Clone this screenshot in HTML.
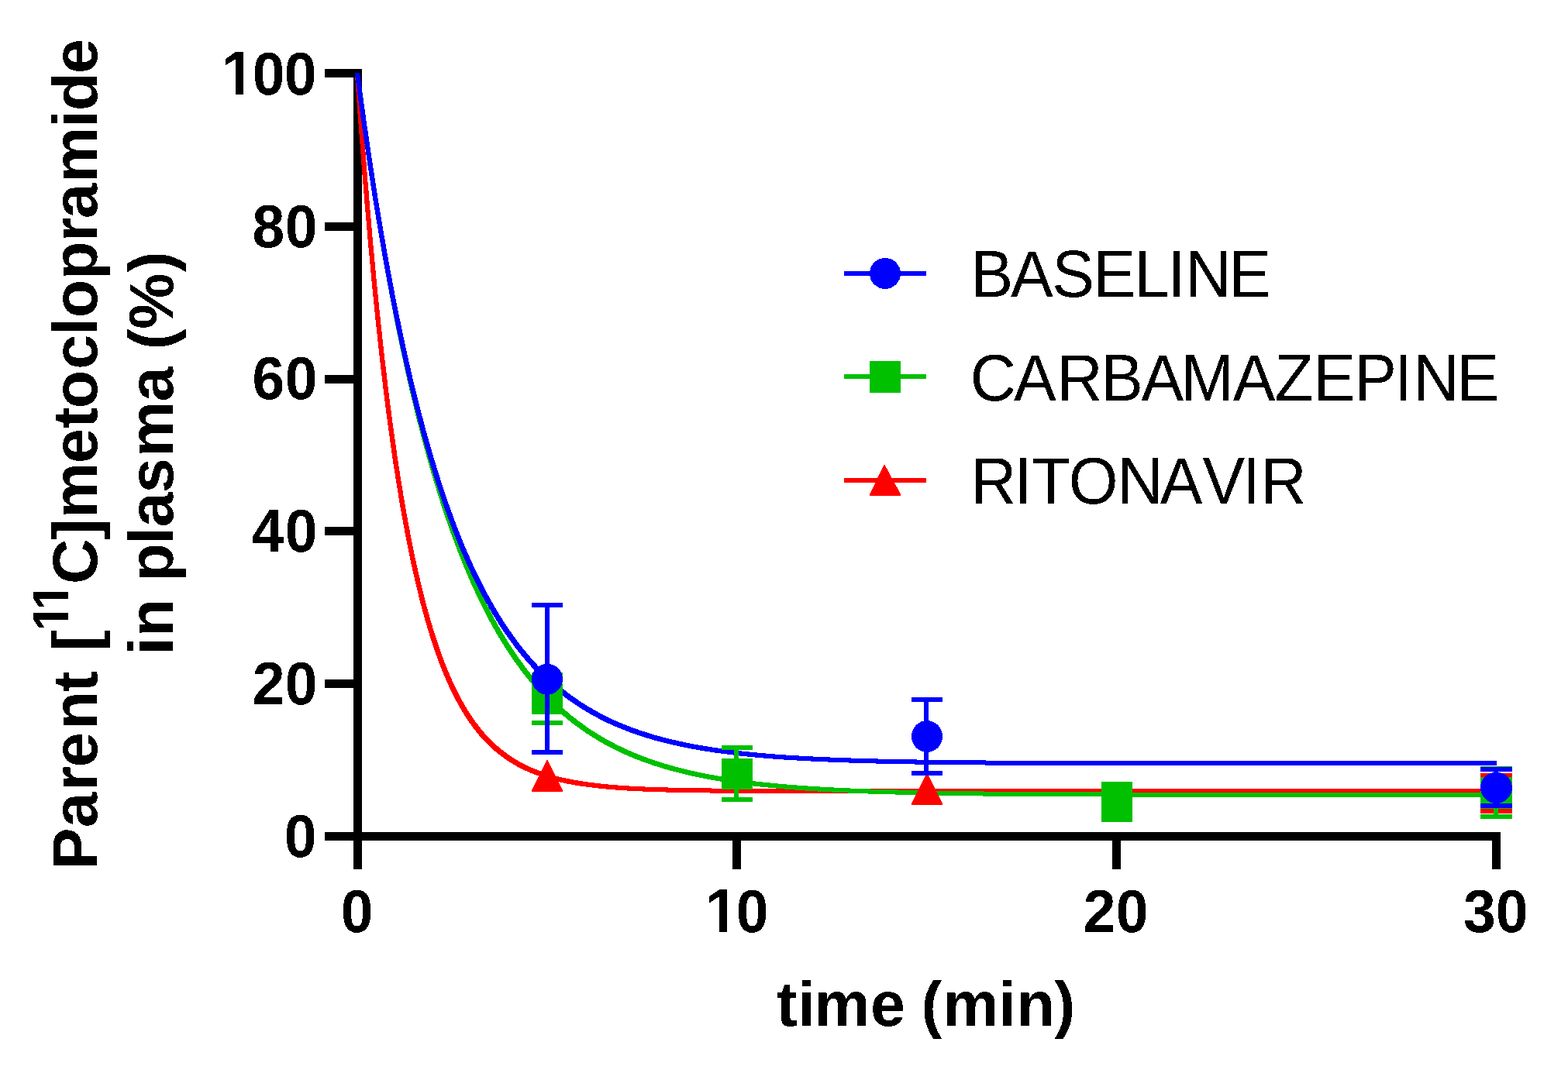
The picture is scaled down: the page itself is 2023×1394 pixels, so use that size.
<!DOCTYPE html>
<html lang="en"><head><meta charset="utf-8">
<title>Parent [11C]metoclopramide in plasma</title>
<style>
html,body{margin:0;padding:0;background:#fff;width:2023px;height:1394px;}
body{overflow:hidden;}
svg{display:block;}
text{font-family:"Liberation Sans",sans-serif;fill:#000;font-kerning:none;}
.b{font-weight:bold;}
.tk{font-weight:bold;font-size:75px;}
.ti{font-weight:bold;font-size:81px;}
.lg{font-size:82px;}
</style></head><body>
<svg width="2023" height="1394" viewBox="0 0 2023 1394" role="img" aria-label="Parent [11C]metoclopramide in plasma (%) versus time (min)">
<defs><filter id="bin" x="-5%" y="-20%" width="110%" height="140%" color-interpolation-filters="sRGB"><feComponentTransfer><feFuncA type="discrete" tableValues="0 1"/></feComponentTransfer></filter></defs>
<rect x="0" y="0" width="2023" height="1394" fill="#fff"/>
<g fill="#000" shape-rendering="crispEdges">
<rect x="456" y="89" width="11" height="1033"/>
<rect x="419" y="1074" width="1517" height="11"/>
<rect x="419" y="89" width="38" height="11"/>
<rect x="419" y="287" width="38" height="11"/>
<rect x="419" y="484" width="38" height="11"/>
<rect x="419" y="680" width="38" height="11"/>
<rect x="419" y="877" width="38" height="11"/>
<rect x="945" y="1074" width="11" height="48"/>
<rect x="1435" y="1074" width="11" height="48"/>
<rect x="1925" y="1074" width="11" height="48"/>
</g>
<defs><clipPath id="plot"><rect x="0" y="94" width="1931" height="1300"/></clipPath></defs>
<g fill="none" stroke-width="3" stroke-linecap="square" stroke-linejoin="round" shape-rendering="crispEdges" clip-path="url(#plot)">
<g stroke="#ff0000">
<polyline transform="translate(-1.5 -1.5)" points="461,94.5 461.8,106.4 462.6,118.3 463.5,130.2 464.3,142.1 465.2,154 466.1,165.8 467,177.7 467.9,189.6 468.8,201.5 469.7,213.4 470.6,225.2 471.6,237.1 472.6,249 473.5,260.9 474.5,272.7 475.6,284.6 476.6,296.4 477.6,308.3 478.7,320.1 479.8,332 480.9,343.8 482,355.7 483.1,367.5 484.3,379.4 485.5,391.2 486.7,403 487.9,414.8 489.2,426.7 490.4,438.5 491.7,450.2 493,461.8 494.3,473.2 495.7,484.6 497,495.8 498.3,506.9 499.7,517.9 501.1,528.8 502.5,539.5 503.9,550.2 505.4,560.7 506.8,571.1 508.3,581.4 509.7,591.5 511.2,601.5 512.8,611.5 514.3,621.3 515.9,630.9 517.4,640.5 519,649.9 520.6,659.3 522.3,668.5 523.9,677.5 525.6,686.5 527.3,695.4 529,704.1 530.8,712.7 532.5,721.2 534.3,729.5 536.1,737.8 538,745.9 539.9,753.9 541.8,761.8 543.7,769.6 545.6,777.2 547.6,784.8 549.7,792.2 551.7,799.5 553.8,806.7 555.9,813.7 558.1,820.7 560.3,827.5 562.5,834.2 564.8,840.8 567.1,847.2 569.4,853.6 571.8,859.8 574.3,865.9 576.8,871.9 579.3,877.8 581.9,883.5 584.6,889.1 587.3,894.6 590,900 592.9,905.3 595.7,910.5 598.7,915.5 601.7,920.4 604.8,925.2 608,929.9 611.2,934.5 614.6,938.9 618,943.2 621.5,947.5 625.1,951.5 628.9,955.5 632.7,959.4 636.6,963.1 640.7,966.7 644.9,970.2 649.3,973.6 653.8,976.9 658.4,980 663.3,983 668.3,986 673.5,988.7 679,991.4 684.7,994 690.6,996.4 696.9,998.7 703.4,1001 710.3,1003 717.6,1005 725.3,1006.9 733.5,1008.6 742.3,1010.2 751.6,1011.8 761.7,1013.1 772.7,1014.4 784.6,1015.6 796.5,1016.6 808.5,1017.4 820.5,1018 832.5,1018.6 844.4,1019 856.4,1019.4 868.4,1019.7 880.4,1020 892.4,1020.2 904.4,1020.4 916.4,1020.5 928.4,1020.7 940.4,1020.8 952.4,1020.8 964.4,1020.9 976.4,1021 988.4,1021 1000.4,1021 1012.4,1021.1 1024.4,1021.1 1036.4,1021.1 1048.4,1021.1 1060.4,1021.2 1072.4,1021.2 1084.4,1021.2 1096.4,1021.2 1108.4,1021.2 1120.4,1021.2 1132.4,1021.2 1144.4,1021.2 1156.4,1021.2 1168.4,1021.2 1180.4,1021.2 1192.4,1021.2 1204.4,1021.2 1216.4,1021.2 1228.4,1021.2 1240.4,1021.2 1252.4,1021.2 1264.4,1021.2 1276.4,1021.2 1288.4,1021.2 1300.4,1021.2 1312.4,1021.2 1324.4,1021.2 1336.4,1021.2 1348.4,1021.2 1360.4,1021.2 1372.4,1021.2 1384.4,1021.2 1396.4,1021.2 1408.4,1021.2 1420.4,1021.2 1432.4,1021.2 1444.4,1021.2 1456.4,1021.2 1468.4,1021.2 1480.4,1021.2 1492.4,1021.2 1504.4,1021.2 1516.4,1021.2 1528.4,1021.2 1540.4,1021.2 1552.4,1021.2 1564.4,1021.2 1576.4,1021.2 1588.4,1021.2 1600.4,1021.2 1612.4,1021.2 1624.4,1021.2 1636.4,1021.2 1648.4,1021.2 1660.4,1021.2 1672.4,1021.2 1684.4,1021.2 1696.4,1021.2 1708.4,1021.2 1720.4,1021.2 1732.4,1021.2 1744.4,1021.2 1756.4,1021.2 1768.4,1021.2 1780.4,1021.2 1792.4,1021.2 1804.4,1021.2 1816.4,1021.2 1828.4,1021.2 1840.4,1021.2 1852.4,1021.2 1864.4,1021.2 1876.4,1021.2 1888.4,1021.2 1900.4,1021.2 1912.4,1021.2 1924.4,1021.2 1930,1021.2"/>
<polyline transform="translate(1.5 -1.5)" points="461,94.5 461.8,106.4 462.6,118.3 463.5,130.2 464.3,142.1 465.2,154 466.1,165.8 467,177.7 467.9,189.6 468.8,201.5 469.7,213.4 470.6,225.2 471.6,237.1 472.6,249 473.5,260.9 474.5,272.7 475.6,284.6 476.6,296.4 477.6,308.3 478.7,320.1 479.8,332 480.9,343.8 482,355.7 483.1,367.5 484.3,379.4 485.5,391.2 486.7,403 487.9,414.8 489.2,426.7 490.4,438.5 491.7,450.2 493,461.8 494.3,473.2 495.7,484.6 497,495.8 498.3,506.9 499.7,517.9 501.1,528.8 502.5,539.5 503.9,550.2 505.4,560.7 506.8,571.1 508.3,581.4 509.7,591.5 511.2,601.5 512.8,611.5 514.3,621.3 515.9,630.9 517.4,640.5 519,649.9 520.6,659.3 522.3,668.5 523.9,677.5 525.6,686.5 527.3,695.4 529,704.1 530.8,712.7 532.5,721.2 534.3,729.5 536.1,737.8 538,745.9 539.9,753.9 541.8,761.8 543.7,769.6 545.6,777.2 547.6,784.8 549.7,792.2 551.7,799.5 553.8,806.7 555.9,813.7 558.1,820.7 560.3,827.5 562.5,834.2 564.8,840.8 567.1,847.2 569.4,853.6 571.8,859.8 574.3,865.9 576.8,871.9 579.3,877.8 581.9,883.5 584.6,889.1 587.3,894.6 590,900 592.9,905.3 595.7,910.5 598.7,915.5 601.7,920.4 604.8,925.2 608,929.9 611.2,934.5 614.6,938.9 618,943.2 621.5,947.5 625.1,951.5 628.9,955.5 632.7,959.4 636.6,963.1 640.7,966.7 644.9,970.2 649.3,973.6 653.8,976.9 658.4,980 663.3,983 668.3,986 673.5,988.7 679,991.4 684.7,994 690.6,996.4 696.9,998.7 703.4,1001 710.3,1003 717.6,1005 725.3,1006.9 733.5,1008.6 742.3,1010.2 751.6,1011.8 761.7,1013.1 772.7,1014.4 784.6,1015.6 796.5,1016.6 808.5,1017.4 820.5,1018 832.5,1018.6 844.4,1019 856.4,1019.4 868.4,1019.7 880.4,1020 892.4,1020.2 904.4,1020.4 916.4,1020.5 928.4,1020.7 940.4,1020.8 952.4,1020.8 964.4,1020.9 976.4,1021 988.4,1021 1000.4,1021 1012.4,1021.1 1024.4,1021.1 1036.4,1021.1 1048.4,1021.1 1060.4,1021.2 1072.4,1021.2 1084.4,1021.2 1096.4,1021.2 1108.4,1021.2 1120.4,1021.2 1132.4,1021.2 1144.4,1021.2 1156.4,1021.2 1168.4,1021.2 1180.4,1021.2 1192.4,1021.2 1204.4,1021.2 1216.4,1021.2 1228.4,1021.2 1240.4,1021.2 1252.4,1021.2 1264.4,1021.2 1276.4,1021.2 1288.4,1021.2 1300.4,1021.2 1312.4,1021.2 1324.4,1021.2 1336.4,1021.2 1348.4,1021.2 1360.4,1021.2 1372.4,1021.2 1384.4,1021.2 1396.4,1021.2 1408.4,1021.2 1420.4,1021.2 1432.4,1021.2 1444.4,1021.2 1456.4,1021.2 1468.4,1021.2 1480.4,1021.2 1492.4,1021.2 1504.4,1021.2 1516.4,1021.2 1528.4,1021.2 1540.4,1021.2 1552.4,1021.2 1564.4,1021.2 1576.4,1021.2 1588.4,1021.2 1600.4,1021.2 1612.4,1021.2 1624.4,1021.2 1636.4,1021.2 1648.4,1021.2 1660.4,1021.2 1672.4,1021.2 1684.4,1021.2 1696.4,1021.2 1708.4,1021.2 1720.4,1021.2 1732.4,1021.2 1744.4,1021.2 1756.4,1021.2 1768.4,1021.2 1780.4,1021.2 1792.4,1021.2 1804.4,1021.2 1816.4,1021.2 1828.4,1021.2 1840.4,1021.2 1852.4,1021.2 1864.4,1021.2 1876.4,1021.2 1888.4,1021.2 1900.4,1021.2 1912.4,1021.2 1924.4,1021.2 1930,1021.2"/>
<polyline transform="translate(-1.5 1.5)" points="461,94.5 461.8,106.4 462.6,118.3 463.5,130.2 464.3,142.1 465.2,154 466.1,165.8 467,177.7 467.9,189.6 468.8,201.5 469.7,213.4 470.6,225.2 471.6,237.1 472.6,249 473.5,260.9 474.5,272.7 475.6,284.6 476.6,296.4 477.6,308.3 478.7,320.1 479.8,332 480.9,343.8 482,355.7 483.1,367.5 484.3,379.4 485.5,391.2 486.7,403 487.9,414.8 489.2,426.7 490.4,438.5 491.7,450.2 493,461.8 494.3,473.2 495.7,484.6 497,495.8 498.3,506.9 499.7,517.9 501.1,528.8 502.5,539.5 503.9,550.2 505.4,560.7 506.8,571.1 508.3,581.4 509.7,591.5 511.2,601.5 512.8,611.5 514.3,621.3 515.9,630.9 517.4,640.5 519,649.9 520.6,659.3 522.3,668.5 523.9,677.5 525.6,686.5 527.3,695.4 529,704.1 530.8,712.7 532.5,721.2 534.3,729.5 536.1,737.8 538,745.9 539.9,753.9 541.8,761.8 543.7,769.6 545.6,777.2 547.6,784.8 549.7,792.2 551.7,799.5 553.8,806.7 555.9,813.7 558.1,820.7 560.3,827.5 562.5,834.2 564.8,840.8 567.1,847.2 569.4,853.6 571.8,859.8 574.3,865.9 576.8,871.9 579.3,877.8 581.9,883.5 584.6,889.1 587.3,894.6 590,900 592.9,905.3 595.7,910.5 598.7,915.5 601.7,920.4 604.8,925.2 608,929.9 611.2,934.5 614.6,938.9 618,943.2 621.5,947.5 625.1,951.5 628.9,955.5 632.7,959.4 636.6,963.1 640.7,966.7 644.9,970.2 649.3,973.6 653.8,976.9 658.4,980 663.3,983 668.3,986 673.5,988.7 679,991.4 684.7,994 690.6,996.4 696.9,998.7 703.4,1001 710.3,1003 717.6,1005 725.3,1006.9 733.5,1008.6 742.3,1010.2 751.6,1011.8 761.7,1013.1 772.7,1014.4 784.6,1015.6 796.5,1016.6 808.5,1017.4 820.5,1018 832.5,1018.6 844.4,1019 856.4,1019.4 868.4,1019.7 880.4,1020 892.4,1020.2 904.4,1020.4 916.4,1020.5 928.4,1020.7 940.4,1020.8 952.4,1020.8 964.4,1020.9 976.4,1021 988.4,1021 1000.4,1021 1012.4,1021.1 1024.4,1021.1 1036.4,1021.1 1048.4,1021.1 1060.4,1021.2 1072.4,1021.2 1084.4,1021.2 1096.4,1021.2 1108.4,1021.2 1120.4,1021.2 1132.4,1021.2 1144.4,1021.2 1156.4,1021.2 1168.4,1021.2 1180.4,1021.2 1192.4,1021.2 1204.4,1021.2 1216.4,1021.2 1228.4,1021.2 1240.4,1021.2 1252.4,1021.2 1264.4,1021.2 1276.4,1021.2 1288.4,1021.2 1300.4,1021.2 1312.4,1021.2 1324.4,1021.2 1336.4,1021.2 1348.4,1021.2 1360.4,1021.2 1372.4,1021.2 1384.4,1021.2 1396.4,1021.2 1408.4,1021.2 1420.4,1021.2 1432.4,1021.2 1444.4,1021.2 1456.4,1021.2 1468.4,1021.2 1480.4,1021.2 1492.4,1021.2 1504.4,1021.2 1516.4,1021.2 1528.4,1021.2 1540.4,1021.2 1552.4,1021.2 1564.4,1021.2 1576.4,1021.2 1588.4,1021.2 1600.4,1021.2 1612.4,1021.2 1624.4,1021.2 1636.4,1021.2 1648.4,1021.2 1660.4,1021.2 1672.4,1021.2 1684.4,1021.2 1696.4,1021.2 1708.4,1021.2 1720.4,1021.2 1732.4,1021.2 1744.4,1021.2 1756.4,1021.2 1768.4,1021.2 1780.4,1021.2 1792.4,1021.2 1804.4,1021.2 1816.4,1021.2 1828.4,1021.2 1840.4,1021.2 1852.4,1021.2 1864.4,1021.2 1876.4,1021.2 1888.4,1021.2 1900.4,1021.2 1912.4,1021.2 1924.4,1021.2 1930,1021.2"/>
<polyline transform="translate(1.5 1.5)" points="461,94.5 461.8,106.4 462.6,118.3 463.5,130.2 464.3,142.1 465.2,154 466.1,165.8 467,177.7 467.9,189.6 468.8,201.5 469.7,213.4 470.6,225.2 471.6,237.1 472.6,249 473.5,260.9 474.5,272.7 475.6,284.6 476.6,296.4 477.6,308.3 478.7,320.1 479.8,332 480.9,343.8 482,355.7 483.1,367.5 484.3,379.4 485.5,391.2 486.7,403 487.9,414.8 489.2,426.7 490.4,438.5 491.7,450.2 493,461.8 494.3,473.2 495.7,484.6 497,495.8 498.3,506.9 499.7,517.9 501.1,528.8 502.5,539.5 503.9,550.2 505.4,560.7 506.8,571.1 508.3,581.4 509.7,591.5 511.2,601.5 512.8,611.5 514.3,621.3 515.9,630.9 517.4,640.5 519,649.9 520.6,659.3 522.3,668.5 523.9,677.5 525.6,686.5 527.3,695.4 529,704.1 530.8,712.7 532.5,721.2 534.3,729.5 536.1,737.8 538,745.9 539.9,753.9 541.8,761.8 543.7,769.6 545.6,777.2 547.6,784.8 549.7,792.2 551.7,799.5 553.8,806.7 555.9,813.7 558.1,820.7 560.3,827.5 562.5,834.2 564.8,840.8 567.1,847.2 569.4,853.6 571.8,859.8 574.3,865.9 576.8,871.9 579.3,877.8 581.9,883.5 584.6,889.1 587.3,894.6 590,900 592.9,905.3 595.7,910.5 598.7,915.5 601.7,920.4 604.8,925.2 608,929.9 611.2,934.5 614.6,938.9 618,943.2 621.5,947.5 625.1,951.5 628.9,955.5 632.7,959.4 636.6,963.1 640.7,966.7 644.9,970.2 649.3,973.6 653.8,976.9 658.4,980 663.3,983 668.3,986 673.5,988.7 679,991.4 684.7,994 690.6,996.4 696.9,998.7 703.4,1001 710.3,1003 717.6,1005 725.3,1006.9 733.5,1008.6 742.3,1010.2 751.6,1011.8 761.7,1013.1 772.7,1014.4 784.6,1015.6 796.5,1016.6 808.5,1017.4 820.5,1018 832.5,1018.6 844.4,1019 856.4,1019.4 868.4,1019.7 880.4,1020 892.4,1020.2 904.4,1020.4 916.4,1020.5 928.4,1020.7 940.4,1020.8 952.4,1020.8 964.4,1020.9 976.4,1021 988.4,1021 1000.4,1021 1012.4,1021.1 1024.4,1021.1 1036.4,1021.1 1048.4,1021.1 1060.4,1021.2 1072.4,1021.2 1084.4,1021.2 1096.4,1021.2 1108.4,1021.2 1120.4,1021.2 1132.4,1021.2 1144.4,1021.2 1156.4,1021.2 1168.4,1021.2 1180.4,1021.2 1192.4,1021.2 1204.4,1021.2 1216.4,1021.2 1228.4,1021.2 1240.4,1021.2 1252.4,1021.2 1264.4,1021.2 1276.4,1021.2 1288.4,1021.2 1300.4,1021.2 1312.4,1021.2 1324.4,1021.2 1336.4,1021.2 1348.4,1021.2 1360.4,1021.2 1372.4,1021.2 1384.4,1021.2 1396.4,1021.2 1408.4,1021.2 1420.4,1021.2 1432.4,1021.2 1444.4,1021.2 1456.4,1021.2 1468.4,1021.2 1480.4,1021.2 1492.4,1021.2 1504.4,1021.2 1516.4,1021.2 1528.4,1021.2 1540.4,1021.2 1552.4,1021.2 1564.4,1021.2 1576.4,1021.2 1588.4,1021.2 1600.4,1021.2 1612.4,1021.2 1624.4,1021.2 1636.4,1021.2 1648.4,1021.2 1660.4,1021.2 1672.4,1021.2 1684.4,1021.2 1696.4,1021.2 1708.4,1021.2 1720.4,1021.2 1732.4,1021.2 1744.4,1021.2 1756.4,1021.2 1768.4,1021.2 1780.4,1021.2 1792.4,1021.2 1804.4,1021.2 1816.4,1021.2 1828.4,1021.2 1840.4,1021.2 1852.4,1021.2 1864.4,1021.2 1876.4,1021.2 1888.4,1021.2 1900.4,1021.2 1912.4,1021.2 1924.4,1021.2 1930,1021.2"/>
</g>
<g stroke="#00c000">
<polyline transform="translate(-1.5 -1.5)" points="461,94.5 462.6,106.3 464.2,118.1 465.8,130 467.4,141.8 469,153.6 470.7,165.4 472.4,177.2 474.1,189 475.8,200.8 477.6,212.5 479.4,224.3 481.2,236.1 483.1,247.9 484.9,259.6 486.8,271.4 488.7,283.1 490.7,294.9 492.7,306.6 494.7,318.4 496.7,330.1 498.8,341.8 500.9,353.5 503.1,365.2 505.3,376.9 507.5,388.6 509.8,400.3 512.1,411.9 514.4,423.6 516.8,435.2 519.3,446.9 521.8,458.5 524.3,470 526.8,481.5 529.4,492.8 532,504 534.6,515 537.3,526 540,536.8 542.7,547.5 545.4,558.1 548.2,568.6 551,579 553.9,589.2 556.7,599.3 559.6,609.3 562.6,619.2 565.6,628.9 568.6,638.6 571.6,648.1 574.7,657.5 577.8,666.8 581,676 584.2,685 587.5,693.9 590.8,702.7 594.1,711.4 597.5,720 600.9,728.4 604.4,736.8 608,745 611.5,753.1 615.2,761 618.9,768.9 622.6,776.6 626.4,784.2 630.3,791.7 634.2,799.1 638.2,806.4 642.2,813.5 646.4,820.5 650.6,827.4 654.8,834.2 659.2,840.9 663.6,847.4 668.1,853.8 672.7,860.1 677.3,866.3 682.1,872.4 686.9,878.3 691.9,884.2 696.9,889.9 702.1,895.5 707.3,900.9 712.7,906.3 718.2,911.5 723.8,916.6 729.6,921.6 735.4,926.5 741.5,931.3 747.7,935.9 754,940.5 760.5,944.9 767.2,949.1 774,953.3 781.1,957.4 788.3,961.3 795.8,965.1 803.5,968.8 811.5,972.4 819.7,975.9 828.2,979.2 837,982.4 846.1,985.5 855.6,988.5 865.5,991.4 875.7,994.1 886.4,996.8 897.5,999.3 909.2,1001.7 921,1003.9 932.8,1005.9 944.6,1007.7 956.5,1009.4 968.4,1010.9 980.3,1012.3 992.3,1013.5 1004.2,1014.7 1016.1,1015.7 1028.1,1016.6 1040.1,1017.5 1052,1018.3 1064,1018.9 1076,1019.6 1088,1020.2 1100,1020.7 1112,1021.2 1124,1021.6 1136,1022 1147.9,1022.3 1159.9,1022.6 1171.9,1022.9 1183.9,1023.2 1195.9,1023.4 1207.9,1023.6 1219.9,1023.8 1231.9,1024 1243.9,1024.2 1255.9,1024.3 1267.9,1024.5 1279.9,1024.6 1291.9,1024.7 1303.9,1024.8 1315.9,1024.9 1327.9,1025 1339.9,1025 1351.9,1025.1 1363.9,1025.2 1375.9,1025.2 1387.9,1025.3 1399.9,1025.3 1411.9,1025.4 1423.9,1025.4 1435.9,1025.4 1447.9,1025.5 1459.9,1025.5 1471.9,1025.5 1483.9,1025.5 1495.9,1025.5 1507.9,1025.6 1519.9,1025.6 1531.9,1025.6 1543.9,1025.6 1555.9,1025.6 1567.9,1025.6 1579.9,1025.6 1591.9,1025.7 1603.9,1025.7 1615.9,1025.7 1627.9,1025.7 1639.9,1025.7 1651.9,1025.7 1663.9,1025.7 1675.9,1025.7 1687.9,1025.7 1699.9,1025.7 1711.9,1025.7 1723.9,1025.7 1735.9,1025.7 1747.9,1025.7 1759.9,1025.7 1771.9,1025.7 1783.9,1025.7 1795.9,1025.7 1807.9,1025.7 1819.9,1025.7 1831.9,1025.7 1843.9,1025.7 1855.9,1025.7 1867.9,1025.7 1879.9,1025.7 1891.9,1025.7 1903.9,1025.7 1915.9,1025.7 1927.9,1025.7 1930,1025.7"/>
<polyline transform="translate(1.5 -1.5)" points="461,94.5 462.6,106.3 464.2,118.1 465.8,130 467.4,141.8 469,153.6 470.7,165.4 472.4,177.2 474.1,189 475.8,200.8 477.6,212.5 479.4,224.3 481.2,236.1 483.1,247.9 484.9,259.6 486.8,271.4 488.7,283.1 490.7,294.9 492.7,306.6 494.7,318.4 496.7,330.1 498.8,341.8 500.9,353.5 503.1,365.2 505.3,376.9 507.5,388.6 509.8,400.3 512.1,411.9 514.4,423.6 516.8,435.2 519.3,446.9 521.8,458.5 524.3,470 526.8,481.5 529.4,492.8 532,504 534.6,515 537.3,526 540,536.8 542.7,547.5 545.4,558.1 548.2,568.6 551,579 553.9,589.2 556.7,599.3 559.6,609.3 562.6,619.2 565.6,628.9 568.6,638.6 571.6,648.1 574.7,657.5 577.8,666.8 581,676 584.2,685 587.5,693.9 590.8,702.7 594.1,711.4 597.5,720 600.9,728.4 604.4,736.8 608,745 611.5,753.1 615.2,761 618.9,768.9 622.6,776.6 626.4,784.2 630.3,791.7 634.2,799.1 638.2,806.4 642.2,813.5 646.4,820.5 650.6,827.4 654.8,834.2 659.2,840.9 663.6,847.4 668.1,853.8 672.7,860.1 677.3,866.3 682.1,872.4 686.9,878.3 691.9,884.2 696.9,889.9 702.1,895.5 707.3,900.9 712.7,906.3 718.2,911.5 723.8,916.6 729.6,921.6 735.4,926.5 741.5,931.3 747.7,935.9 754,940.5 760.5,944.9 767.2,949.1 774,953.3 781.1,957.4 788.3,961.3 795.8,965.1 803.5,968.8 811.5,972.4 819.7,975.9 828.2,979.2 837,982.4 846.1,985.5 855.6,988.5 865.5,991.4 875.7,994.1 886.4,996.8 897.5,999.3 909.2,1001.7 921,1003.9 932.8,1005.9 944.6,1007.7 956.5,1009.4 968.4,1010.9 980.3,1012.3 992.3,1013.5 1004.2,1014.7 1016.1,1015.7 1028.1,1016.6 1040.1,1017.5 1052,1018.3 1064,1018.9 1076,1019.6 1088,1020.2 1100,1020.7 1112,1021.2 1124,1021.6 1136,1022 1147.9,1022.3 1159.9,1022.6 1171.9,1022.9 1183.9,1023.2 1195.9,1023.4 1207.9,1023.6 1219.9,1023.8 1231.9,1024 1243.9,1024.2 1255.9,1024.3 1267.9,1024.5 1279.9,1024.6 1291.9,1024.7 1303.9,1024.8 1315.9,1024.9 1327.9,1025 1339.9,1025 1351.9,1025.1 1363.9,1025.2 1375.9,1025.2 1387.9,1025.3 1399.9,1025.3 1411.9,1025.4 1423.9,1025.4 1435.9,1025.4 1447.9,1025.5 1459.9,1025.5 1471.9,1025.5 1483.9,1025.5 1495.9,1025.5 1507.9,1025.6 1519.9,1025.6 1531.9,1025.6 1543.9,1025.6 1555.9,1025.6 1567.9,1025.6 1579.9,1025.6 1591.9,1025.7 1603.9,1025.7 1615.9,1025.7 1627.9,1025.7 1639.9,1025.7 1651.9,1025.7 1663.9,1025.7 1675.9,1025.7 1687.9,1025.7 1699.9,1025.7 1711.9,1025.7 1723.9,1025.7 1735.9,1025.7 1747.9,1025.7 1759.9,1025.7 1771.9,1025.7 1783.9,1025.7 1795.9,1025.7 1807.9,1025.7 1819.9,1025.7 1831.9,1025.7 1843.9,1025.7 1855.9,1025.7 1867.9,1025.7 1879.9,1025.7 1891.9,1025.7 1903.9,1025.7 1915.9,1025.7 1927.9,1025.7 1930,1025.7"/>
<polyline transform="translate(-1.5 1.5)" points="461,94.5 462.6,106.3 464.2,118.1 465.8,130 467.4,141.8 469,153.6 470.7,165.4 472.4,177.2 474.1,189 475.8,200.8 477.6,212.5 479.4,224.3 481.2,236.1 483.1,247.9 484.9,259.6 486.8,271.4 488.7,283.1 490.7,294.9 492.7,306.6 494.7,318.4 496.7,330.1 498.8,341.8 500.9,353.5 503.1,365.2 505.3,376.9 507.5,388.6 509.8,400.3 512.1,411.9 514.4,423.6 516.8,435.2 519.3,446.9 521.8,458.5 524.3,470 526.8,481.5 529.4,492.8 532,504 534.6,515 537.3,526 540,536.8 542.7,547.5 545.4,558.1 548.2,568.6 551,579 553.9,589.2 556.7,599.3 559.6,609.3 562.6,619.2 565.6,628.9 568.6,638.6 571.6,648.1 574.7,657.5 577.8,666.8 581,676 584.2,685 587.5,693.9 590.8,702.7 594.1,711.4 597.5,720 600.9,728.4 604.4,736.8 608,745 611.5,753.1 615.2,761 618.9,768.9 622.6,776.6 626.4,784.2 630.3,791.7 634.2,799.1 638.2,806.4 642.2,813.5 646.4,820.5 650.6,827.4 654.8,834.2 659.2,840.9 663.6,847.4 668.1,853.8 672.7,860.1 677.3,866.3 682.1,872.4 686.9,878.3 691.9,884.2 696.9,889.9 702.1,895.5 707.3,900.9 712.7,906.3 718.2,911.5 723.8,916.6 729.6,921.6 735.4,926.5 741.5,931.3 747.7,935.9 754,940.5 760.5,944.9 767.2,949.1 774,953.3 781.1,957.4 788.3,961.3 795.8,965.1 803.5,968.8 811.5,972.4 819.7,975.9 828.2,979.2 837,982.4 846.1,985.5 855.6,988.5 865.5,991.4 875.7,994.1 886.4,996.8 897.5,999.3 909.2,1001.7 921,1003.9 932.8,1005.9 944.6,1007.7 956.5,1009.4 968.4,1010.9 980.3,1012.3 992.3,1013.5 1004.2,1014.7 1016.1,1015.7 1028.1,1016.6 1040.1,1017.5 1052,1018.3 1064,1018.9 1076,1019.6 1088,1020.2 1100,1020.7 1112,1021.2 1124,1021.6 1136,1022 1147.9,1022.3 1159.9,1022.6 1171.9,1022.9 1183.9,1023.2 1195.9,1023.4 1207.9,1023.6 1219.9,1023.8 1231.9,1024 1243.9,1024.2 1255.9,1024.3 1267.9,1024.5 1279.9,1024.6 1291.9,1024.7 1303.9,1024.8 1315.9,1024.9 1327.9,1025 1339.9,1025 1351.9,1025.1 1363.9,1025.2 1375.9,1025.2 1387.9,1025.3 1399.9,1025.3 1411.9,1025.4 1423.9,1025.4 1435.9,1025.4 1447.9,1025.5 1459.9,1025.5 1471.9,1025.5 1483.9,1025.5 1495.9,1025.5 1507.9,1025.6 1519.9,1025.6 1531.9,1025.6 1543.9,1025.6 1555.9,1025.6 1567.9,1025.6 1579.9,1025.6 1591.9,1025.7 1603.9,1025.7 1615.9,1025.7 1627.9,1025.7 1639.9,1025.7 1651.9,1025.7 1663.9,1025.7 1675.9,1025.7 1687.9,1025.7 1699.9,1025.7 1711.9,1025.7 1723.9,1025.7 1735.9,1025.7 1747.9,1025.7 1759.9,1025.7 1771.9,1025.7 1783.9,1025.7 1795.9,1025.7 1807.9,1025.7 1819.9,1025.7 1831.9,1025.7 1843.9,1025.7 1855.9,1025.7 1867.9,1025.7 1879.9,1025.7 1891.9,1025.7 1903.9,1025.7 1915.9,1025.7 1927.9,1025.7 1930,1025.7"/>
<polyline transform="translate(1.5 1.5)" points="461,94.5 462.6,106.3 464.2,118.1 465.8,130 467.4,141.8 469,153.6 470.7,165.4 472.4,177.2 474.1,189 475.8,200.8 477.6,212.5 479.4,224.3 481.2,236.1 483.1,247.9 484.9,259.6 486.8,271.4 488.7,283.1 490.7,294.9 492.7,306.6 494.7,318.4 496.7,330.1 498.8,341.8 500.9,353.5 503.1,365.2 505.3,376.9 507.5,388.6 509.8,400.3 512.1,411.9 514.4,423.6 516.8,435.2 519.3,446.9 521.8,458.5 524.3,470 526.8,481.5 529.4,492.8 532,504 534.6,515 537.3,526 540,536.8 542.7,547.5 545.4,558.1 548.2,568.6 551,579 553.9,589.2 556.7,599.3 559.6,609.3 562.6,619.2 565.6,628.9 568.6,638.6 571.6,648.1 574.7,657.5 577.8,666.8 581,676 584.2,685 587.5,693.9 590.8,702.7 594.1,711.4 597.5,720 600.9,728.4 604.4,736.8 608,745 611.5,753.1 615.2,761 618.9,768.9 622.6,776.6 626.4,784.2 630.3,791.7 634.2,799.1 638.2,806.4 642.2,813.5 646.4,820.5 650.6,827.4 654.8,834.2 659.2,840.9 663.6,847.4 668.1,853.8 672.7,860.1 677.3,866.3 682.1,872.4 686.9,878.3 691.9,884.2 696.9,889.9 702.1,895.5 707.3,900.9 712.7,906.3 718.2,911.5 723.8,916.6 729.6,921.6 735.4,926.5 741.5,931.3 747.7,935.9 754,940.5 760.5,944.9 767.2,949.1 774,953.3 781.1,957.4 788.3,961.3 795.8,965.1 803.5,968.8 811.5,972.4 819.7,975.9 828.2,979.2 837,982.4 846.1,985.5 855.6,988.5 865.5,991.4 875.7,994.1 886.4,996.8 897.5,999.3 909.2,1001.7 921,1003.9 932.8,1005.9 944.6,1007.7 956.5,1009.4 968.4,1010.9 980.3,1012.3 992.3,1013.5 1004.2,1014.7 1016.1,1015.7 1028.1,1016.6 1040.1,1017.5 1052,1018.3 1064,1018.9 1076,1019.6 1088,1020.2 1100,1020.7 1112,1021.2 1124,1021.6 1136,1022 1147.9,1022.3 1159.9,1022.6 1171.9,1022.9 1183.9,1023.2 1195.9,1023.4 1207.9,1023.6 1219.9,1023.8 1231.9,1024 1243.9,1024.2 1255.9,1024.3 1267.9,1024.5 1279.9,1024.6 1291.9,1024.7 1303.9,1024.8 1315.9,1024.9 1327.9,1025 1339.9,1025 1351.9,1025.1 1363.9,1025.2 1375.9,1025.2 1387.9,1025.3 1399.9,1025.3 1411.9,1025.4 1423.9,1025.4 1435.9,1025.4 1447.9,1025.5 1459.9,1025.5 1471.9,1025.5 1483.9,1025.5 1495.9,1025.5 1507.9,1025.6 1519.9,1025.6 1531.9,1025.6 1543.9,1025.6 1555.9,1025.6 1567.9,1025.6 1579.9,1025.6 1591.9,1025.7 1603.9,1025.7 1615.9,1025.7 1627.9,1025.7 1639.9,1025.7 1651.9,1025.7 1663.9,1025.7 1675.9,1025.7 1687.9,1025.7 1699.9,1025.7 1711.9,1025.7 1723.9,1025.7 1735.9,1025.7 1747.9,1025.7 1759.9,1025.7 1771.9,1025.7 1783.9,1025.7 1795.9,1025.7 1807.9,1025.7 1819.9,1025.7 1831.9,1025.7 1843.9,1025.7 1855.9,1025.7 1867.9,1025.7 1879.9,1025.7 1891.9,1025.7 1903.9,1025.7 1915.9,1025.7 1927.9,1025.7 1930,1025.7"/>
</g>
<g stroke="#0000ff">
<polyline transform="translate(-1.5 -1.5)" points="461,94.5 462.6,106.3 464.1,118.1 465.7,129.9 467.4,141.8 469,153.6 470.7,165.4 472.4,177.2 474.1,188.9 475.8,200.7 477.6,212.5 479.4,224.3 481.2,236.1 483,247.8 484.9,259.6 486.8,271.3 488.8,283.1 490.7,294.8 492.7,306.5 494.8,318.3 496.8,330 498.9,341.7 501.1,353.4 503.3,365.1 505.5,376.8 507.7,388.4 510,400.1 512.4,411.7 514.8,423.4 517.2,434.9 519.6,446.2 522.1,457.5 524.6,468.6 527.1,479.6 529.6,490.5 532.2,501.3 534.8,512 537.4,522.5 540.1,532.9 542.8,543.2 545.5,553.4 548.2,563.5 551,573.4 553.9,583.2 556.7,592.9 559.6,602.5 562.5,612 565.5,621.3 568.5,630.6 571.5,639.7 574.6,648.7 577.7,657.5 580.9,666.3 584.1,674.9 587.3,683.4 590.6,691.8 593.9,700.1 597.3,708.3 600.8,716.3 604.2,724.2 607.8,732 611.4,739.7 615,747.3 618.7,754.7 622.5,762 626.3,769.2 630.2,776.3 634.2,783.3 638.2,790.1 642.3,796.8 646.4,803.4 650.7,809.9 655,816.3 659.4,822.6 663.9,828.7 668.4,834.7 673.1,840.6 677.9,846.4 682.7,852 687.7,857.6 692.7,863 697.9,868.3 703.2,873.5 708.6,878.5 714.1,883.5 719.8,888.3 725.6,893 731.5,897.6 737.6,902.1 743.9,906.4 750.3,910.7 757,914.8 763.8,918.8 770.8,922.7 778,926.4 785.4,930.1 793.1,933.6 801.1,937 809.3,940.3 817.8,943.5 826.7,946.5 835.8,949.4 845.4,952.3 855.3,955 865.7,957.5 876.5,960 887.9,962.4 899.7,964.6 911.5,966.6 923.3,968.4 935.2,970 947.1,971.5 959,972.9 971,974.1 982.9,975.2 994.9,976.2 1006.8,977.1 1018.8,977.9 1030.8,978.6 1042.7,979.3 1054.7,979.8 1066.7,980.4 1078.7,980.9 1090.7,981.3 1102.7,981.7 1114.7,982.1 1126.7,982.4 1138.7,982.7 1150.7,982.9 1162.7,983.2 1174.7,983.4 1186.7,983.6 1198.7,983.7 1210.7,983.9 1222.7,984 1234.7,984.2 1246.7,984.3 1258.7,984.4 1270.7,984.5 1282.7,984.6 1294.7,984.6 1306.7,984.7 1318.7,984.8 1330.7,984.8 1342.7,984.9 1354.7,984.9 1366.7,985 1378.7,985 1390.7,985 1402.7,985.1 1414.7,985.1 1426.7,985.1 1438.7,985.1 1450.7,985.2 1462.7,985.2 1474.7,985.2 1486.7,985.2 1498.7,985.2 1510.7,985.2 1522.7,985.3 1534.7,985.3 1546.7,985.3 1558.7,985.3 1570.7,985.3 1582.7,985.3 1594.7,985.3 1606.7,985.3 1618.7,985.3 1630.7,985.3 1642.7,985.3 1654.7,985.3 1666.7,985.3 1678.7,985.3 1690.7,985.3 1702.7,985.3 1714.7,985.3 1726.7,985.3 1738.7,985.3 1750.7,985.3 1762.7,985.3 1774.7,985.3 1786.7,985.3 1798.7,985.3 1810.7,985.3 1822.7,985.3 1834.7,985.3 1846.7,985.3 1858.7,985.3 1870.7,985.3 1882.7,985.3 1894.7,985.3 1906.7,985.3 1918.7,985.4 1930,985.4"/>
<polyline transform="translate(1.5 -1.5)" points="461,94.5 462.6,106.3 464.1,118.1 465.7,129.9 467.4,141.8 469,153.6 470.7,165.4 472.4,177.2 474.1,188.9 475.8,200.7 477.6,212.5 479.4,224.3 481.2,236.1 483,247.8 484.9,259.6 486.8,271.3 488.8,283.1 490.7,294.8 492.7,306.5 494.8,318.3 496.8,330 498.9,341.7 501.1,353.4 503.3,365.1 505.5,376.8 507.7,388.4 510,400.1 512.4,411.7 514.8,423.4 517.2,434.9 519.6,446.2 522.1,457.5 524.6,468.6 527.1,479.6 529.6,490.5 532.2,501.3 534.8,512 537.4,522.5 540.1,532.9 542.8,543.2 545.5,553.4 548.2,563.5 551,573.4 553.9,583.2 556.7,592.9 559.6,602.5 562.5,612 565.5,621.3 568.5,630.6 571.5,639.7 574.6,648.7 577.7,657.5 580.9,666.3 584.1,674.9 587.3,683.4 590.6,691.8 593.9,700.1 597.3,708.3 600.8,716.3 604.2,724.2 607.8,732 611.4,739.7 615,747.3 618.7,754.7 622.5,762 626.3,769.2 630.2,776.3 634.2,783.3 638.2,790.1 642.3,796.8 646.4,803.4 650.7,809.9 655,816.3 659.4,822.6 663.9,828.7 668.4,834.7 673.1,840.6 677.9,846.4 682.7,852 687.7,857.6 692.7,863 697.9,868.3 703.2,873.5 708.6,878.5 714.1,883.5 719.8,888.3 725.6,893 731.5,897.6 737.6,902.1 743.9,906.4 750.3,910.7 757,914.8 763.8,918.8 770.8,922.7 778,926.4 785.4,930.1 793.1,933.6 801.1,937 809.3,940.3 817.8,943.5 826.7,946.5 835.8,949.4 845.4,952.3 855.3,955 865.7,957.5 876.5,960 887.9,962.4 899.7,964.6 911.5,966.6 923.3,968.4 935.2,970 947.1,971.5 959,972.9 971,974.1 982.9,975.2 994.9,976.2 1006.8,977.1 1018.8,977.9 1030.8,978.6 1042.7,979.3 1054.7,979.8 1066.7,980.4 1078.7,980.9 1090.7,981.3 1102.7,981.7 1114.7,982.1 1126.7,982.4 1138.7,982.7 1150.7,982.9 1162.7,983.2 1174.7,983.4 1186.7,983.6 1198.7,983.7 1210.7,983.9 1222.7,984 1234.7,984.2 1246.7,984.3 1258.7,984.4 1270.7,984.5 1282.7,984.6 1294.7,984.6 1306.7,984.7 1318.7,984.8 1330.7,984.8 1342.7,984.9 1354.7,984.9 1366.7,985 1378.7,985 1390.7,985 1402.7,985.1 1414.7,985.1 1426.7,985.1 1438.7,985.1 1450.7,985.2 1462.7,985.2 1474.7,985.2 1486.7,985.2 1498.7,985.2 1510.7,985.2 1522.7,985.3 1534.7,985.3 1546.7,985.3 1558.7,985.3 1570.7,985.3 1582.7,985.3 1594.7,985.3 1606.7,985.3 1618.7,985.3 1630.7,985.3 1642.7,985.3 1654.7,985.3 1666.7,985.3 1678.7,985.3 1690.7,985.3 1702.7,985.3 1714.7,985.3 1726.7,985.3 1738.7,985.3 1750.7,985.3 1762.7,985.3 1774.7,985.3 1786.7,985.3 1798.7,985.3 1810.7,985.3 1822.7,985.3 1834.7,985.3 1846.7,985.3 1858.7,985.3 1870.7,985.3 1882.7,985.3 1894.7,985.3 1906.7,985.3 1918.7,985.4 1930,985.4"/>
<polyline transform="translate(-1.5 1.5)" points="461,94.5 462.6,106.3 464.1,118.1 465.7,129.9 467.4,141.8 469,153.6 470.7,165.4 472.4,177.2 474.1,188.9 475.8,200.7 477.6,212.5 479.4,224.3 481.2,236.1 483,247.8 484.9,259.6 486.8,271.3 488.8,283.1 490.7,294.8 492.7,306.5 494.8,318.3 496.8,330 498.9,341.7 501.1,353.4 503.3,365.1 505.5,376.8 507.7,388.4 510,400.1 512.4,411.7 514.8,423.4 517.2,434.9 519.6,446.2 522.1,457.5 524.6,468.6 527.1,479.6 529.6,490.5 532.2,501.3 534.8,512 537.4,522.5 540.1,532.9 542.8,543.2 545.5,553.4 548.2,563.5 551,573.4 553.9,583.2 556.7,592.9 559.6,602.5 562.5,612 565.5,621.3 568.5,630.6 571.5,639.7 574.6,648.7 577.7,657.5 580.9,666.3 584.1,674.9 587.3,683.4 590.6,691.8 593.9,700.1 597.3,708.3 600.8,716.3 604.2,724.2 607.8,732 611.4,739.7 615,747.3 618.7,754.7 622.5,762 626.3,769.2 630.2,776.3 634.2,783.3 638.2,790.1 642.3,796.8 646.4,803.4 650.7,809.9 655,816.3 659.4,822.6 663.9,828.7 668.4,834.7 673.1,840.6 677.9,846.4 682.7,852 687.7,857.6 692.7,863 697.9,868.3 703.2,873.5 708.6,878.5 714.1,883.5 719.8,888.3 725.6,893 731.5,897.6 737.6,902.1 743.9,906.4 750.3,910.7 757,914.8 763.8,918.8 770.8,922.7 778,926.4 785.4,930.1 793.1,933.6 801.1,937 809.3,940.3 817.8,943.5 826.7,946.5 835.8,949.4 845.4,952.3 855.3,955 865.7,957.5 876.5,960 887.9,962.4 899.7,964.6 911.5,966.6 923.3,968.4 935.2,970 947.1,971.5 959,972.9 971,974.1 982.9,975.2 994.9,976.2 1006.8,977.1 1018.8,977.9 1030.8,978.6 1042.7,979.3 1054.7,979.8 1066.7,980.4 1078.7,980.9 1090.7,981.3 1102.7,981.7 1114.7,982.1 1126.7,982.4 1138.7,982.7 1150.7,982.9 1162.7,983.2 1174.7,983.4 1186.7,983.6 1198.7,983.7 1210.7,983.9 1222.7,984 1234.7,984.2 1246.7,984.3 1258.7,984.4 1270.7,984.5 1282.7,984.6 1294.7,984.6 1306.7,984.7 1318.7,984.8 1330.7,984.8 1342.7,984.9 1354.7,984.9 1366.7,985 1378.7,985 1390.7,985 1402.7,985.1 1414.7,985.1 1426.7,985.1 1438.7,985.1 1450.7,985.2 1462.7,985.2 1474.7,985.2 1486.7,985.2 1498.7,985.2 1510.7,985.2 1522.7,985.3 1534.7,985.3 1546.7,985.3 1558.7,985.3 1570.7,985.3 1582.7,985.3 1594.7,985.3 1606.7,985.3 1618.7,985.3 1630.7,985.3 1642.7,985.3 1654.7,985.3 1666.7,985.3 1678.7,985.3 1690.7,985.3 1702.7,985.3 1714.7,985.3 1726.7,985.3 1738.7,985.3 1750.7,985.3 1762.7,985.3 1774.7,985.3 1786.7,985.3 1798.7,985.3 1810.7,985.3 1822.7,985.3 1834.7,985.3 1846.7,985.3 1858.7,985.3 1870.7,985.3 1882.7,985.3 1894.7,985.3 1906.7,985.3 1918.7,985.4 1930,985.4"/>
<polyline transform="translate(1.5 1.5)" points="461,94.5 462.6,106.3 464.1,118.1 465.7,129.9 467.4,141.8 469,153.6 470.7,165.4 472.4,177.2 474.1,188.9 475.8,200.7 477.6,212.5 479.4,224.3 481.2,236.1 483,247.8 484.9,259.6 486.8,271.3 488.8,283.1 490.7,294.8 492.7,306.5 494.8,318.3 496.8,330 498.9,341.7 501.1,353.4 503.3,365.1 505.5,376.8 507.7,388.4 510,400.1 512.4,411.7 514.8,423.4 517.2,434.9 519.6,446.2 522.1,457.5 524.6,468.6 527.1,479.6 529.6,490.5 532.2,501.3 534.8,512 537.4,522.5 540.1,532.9 542.8,543.2 545.5,553.4 548.2,563.5 551,573.4 553.9,583.2 556.7,592.9 559.6,602.5 562.5,612 565.5,621.3 568.5,630.6 571.5,639.7 574.6,648.7 577.7,657.5 580.9,666.3 584.1,674.9 587.3,683.4 590.6,691.8 593.9,700.1 597.3,708.3 600.8,716.3 604.2,724.2 607.8,732 611.4,739.7 615,747.3 618.7,754.7 622.5,762 626.3,769.2 630.2,776.3 634.2,783.3 638.2,790.1 642.3,796.8 646.4,803.4 650.7,809.9 655,816.3 659.4,822.6 663.9,828.7 668.4,834.7 673.1,840.6 677.9,846.4 682.7,852 687.7,857.6 692.7,863 697.9,868.3 703.2,873.5 708.6,878.5 714.1,883.5 719.8,888.3 725.6,893 731.5,897.6 737.6,902.1 743.9,906.4 750.3,910.7 757,914.8 763.8,918.8 770.8,922.7 778,926.4 785.4,930.1 793.1,933.6 801.1,937 809.3,940.3 817.8,943.5 826.7,946.5 835.8,949.4 845.4,952.3 855.3,955 865.7,957.5 876.5,960 887.9,962.4 899.7,964.6 911.5,966.6 923.3,968.4 935.2,970 947.1,971.5 959,972.9 971,974.1 982.9,975.2 994.9,976.2 1006.8,977.1 1018.8,977.9 1030.8,978.6 1042.7,979.3 1054.7,979.8 1066.7,980.4 1078.7,980.9 1090.7,981.3 1102.7,981.7 1114.7,982.1 1126.7,982.4 1138.7,982.7 1150.7,982.9 1162.7,983.2 1174.7,983.4 1186.7,983.6 1198.7,983.7 1210.7,983.9 1222.7,984 1234.7,984.2 1246.7,984.3 1258.7,984.4 1270.7,984.5 1282.7,984.6 1294.7,984.6 1306.7,984.7 1318.7,984.8 1330.7,984.8 1342.7,984.9 1354.7,984.9 1366.7,985 1378.7,985 1390.7,985 1402.7,985.1 1414.7,985.1 1426.7,985.1 1438.7,985.1 1450.7,985.2 1462.7,985.2 1474.7,985.2 1486.7,985.2 1498.7,985.2 1510.7,985.2 1522.7,985.3 1534.7,985.3 1546.7,985.3 1558.7,985.3 1570.7,985.3 1582.7,985.3 1594.7,985.3 1606.7,985.3 1618.7,985.3 1630.7,985.3 1642.7,985.3 1654.7,985.3 1666.7,985.3 1678.7,985.3 1690.7,985.3 1702.7,985.3 1714.7,985.3 1726.7,985.3 1738.7,985.3 1750.7,985.3 1762.7,985.3 1774.7,985.3 1786.7,985.3 1798.7,985.3 1810.7,985.3 1822.7,985.3 1834.7,985.3 1846.7,985.3 1858.7,985.3 1870.7,985.3 1882.7,985.3 1894.7,985.3 1906.7,985.3 1918.7,985.4 1930,985.4"/>
</g>
</g>
<g shape-rendering="crispEdges">
<polygon points="706,980 726,1019.8 726,1022 686,1022 686,1019.8" fill="#ff0000"/>
<polygon points="1196,997 1216,1036.8 1216,1039 1176,1039 1176,1036.8" fill="#ff0000"/>
<rect x="1927" y="1001" width="6" height="46" fill="#ff0000"/><rect x="1910" y="998" width="41" height="6" fill="#ff0000"/><rect x="1910" y="1044" width="41" height="6" fill="#ff0000"/>
<polygon points="1930.5,1003 1951,1041.8 1951,1044 1910,1044 1910,1041.8" fill="#ff0000"/>
<rect x="703" y="871" width="6" height="62" fill="#00c000"/><rect x="686" y="868" width="40" height="6" fill="#00c000"/><rect x="686" y="930" width="40" height="6" fill="#00c000"/>
<rect x="686" y="882" width="40" height="40" fill="#00c000"/>
<rect x="947" y="965" width="6" height="67" fill="#00c000"/><rect x="931" y="962" width="40" height="6" fill="#00c000"/><rect x="931" y="1029" width="40" height="6" fill="#00c000"/>
<rect x="931" y="979" width="40" height="40" fill="#00c000"/>
<rect x="1438" y="1012" width="6" height="46" fill="#00c000"/><rect x="1421" y="1009" width="40" height="6" fill="#00c000"/><rect x="1421" y="1055" width="40" height="6" fill="#00c000"/>
<rect x="1421" y="1015" width="40" height="40" fill="#00c000"/>
<rect x="1927" y="992" width="6" height="62" fill="#00c000"/><rect x="1910" y="989" width="41" height="6" fill="#00c000"/><rect x="1910" y="1051" width="41" height="6" fill="#00c000"/>
<rect x="1910" y="1003" width="41" height="41" fill="#00c000"/>
<rect x="703" y="781" width="6" height="190" fill="#0000ff"/><rect x="686" y="778" width="40" height="6" fill="#0000ff"/><rect x="686" y="968" width="40" height="6" fill="#0000ff"/>
<ellipse cx="706.0" cy="876.75" rx="20.0" ry="20" fill="#0000ff"/>
<rect x="1192" y="903" width="6" height="95" fill="#0000ff"/><rect x="1176" y="900" width="40" height="6" fill="#0000ff"/><rect x="1176" y="995" width="40" height="6" fill="#0000ff"/>
<ellipse cx="1196.0" cy="950.5" rx="20.0" ry="20.5" fill="#0000ff"/>
<rect x="1927" y="993" width="6" height="47" fill="#0000ff"/><rect x="1910" y="990" width="41" height="6" fill="#0000ff"/><rect x="1910" y="1037" width="41" height="6" fill="#0000ff"/>
<ellipse cx="1930.5" cy="1016.8" rx="20.5" ry="20.2" fill="#0000ff"/>
</g>
<g shape-rendering="crispEdges">
<rect x="1089" y="350" width="106" height="6" fill="#0000ff"/>
<circle cx="1142" cy="353" r="20" fill="#0000ff"/>
<rect x="1089" y="483" width="106" height="6" fill="#00c000"/>
<rect x="1122" y="466" width="40" height="41" fill="#00c000"/>
<rect x="1089" y="617" width="106" height="6" fill="#ff0000"/>
<polygon points="1141,599 1162,637.8 1162,640 1122,640 1122,637.8" fill="#ff0000"/>
</g>
<g filter="url(#bin)">
<text class="tk" transform="translate(0 122) scale(1 1.04)" x="285.88 325.65 366.65" y="0"><tspan font-size="76">1</tspan>00</text>
<text class="tk" transform="translate(0 319) scale(1 1.04)" x="325.55 367.65" y="0">80</text>
<text class="tk" transform="translate(0 515) scale(1 1.04)" x="325.6 367.65" y="0">60</text>
<text class="tk" transform="translate(0 712) scale(1 1.04)" x="324.7 367.65" y="0">40</text>
<text class="tk" transform="translate(0 909) scale(1 1.04)" x="325.8 367.65" y="0">20</text>
<text class="tk" transform="translate(0 1106) scale(1 1.04)" x="366.65" y="0">0</text>
<text class="tk" transform="translate(0 1203) scale(1 1.04)" x="439.65" y="0">0</text>
<text class="tk" transform="translate(0 1203) scale(1 1.04)" x="909.93 949.65" y="0"><tspan font-size="76">1</tspan>0</text>
<text class="tk" transform="translate(0 1203) scale(1 1.04)" x="1397.8 1439.65" y="0">20</text>
<text class="tk" transform="translate(0 1203) scale(1 1.04)" x="1888.1 1929.65" y="0">30</text>
<text class="ti" x="1001.8 1029.35 1050.45 1122.95 1168 1188.4 1216.45 1288.45 1311.55 1360.35" y="1323.85">time (min)</text>
<g transform="translate(125 1117.05) rotate(-90)"><text class="ti" y="0" x="-5.42 49 96.3 126.7 175.2 223.9 251 276.7 302.13 329.23 363 420.15 448.1 518.9 564.15 589.8 640.3 684.2 706.8 756.1 805 835 881.2 952.7 974 1022">Parent [<tspan font-size="64" dy="-37.0">11</tspan><tspan dy="37.0">C]metoclopramide</tspan></text></g>
<g transform="translate(223 839.5) rotate(-90)"><text class="ti" y="0" x="-5.66 17.56 66 88.76 136.84 159.3 203.2 249.46 321.3 366 388.2 414.8 488">in plasma (%)</text></g>
<text class="lg" transform="translate(0 383) scale(1 1.045)" y="0" x="1252.4 1303.9 1357.3 1410.4 1463.2 1506.4 1529.2 1585.3">BASELINE</text>
<text class="lg" transform="translate(0 516.7) scale(1 1.045)" y="0" x="1251.8 1308 1363.6 1420.2 1472.4 1523.7 1590.8 1644.7 1694.3 1747.3 1799.3 1823.3 1879.4">CARBAMAZEPINE</text>
<text class="lg" transform="translate(0 649.7) scale(1 1.045)" y="0" x="1252.3 1308.6 1331.1 1378.8 1441.4 1496.7 1551.5 1603.3 1626.4">RITONAVIR</text>
</g>
<g fill="#fff" shape-rendering="crispEdges">
<rect x="289.67" y="113.33" width="13.95" height="9.87"/><rect x="314.05" y="113.33" width="12.99" height="9.87"/>
<rect x="913.72" y="1194.33" width="13.95" height="9.87"/><rect x="938.1" y="1194.33" width="12.99" height="9.87"/>
<g transform="translate(125 1117.05) rotate(-90)"><rect x="305.16" y="-44.13" width="11.91" height="8.33"/><rect x="325.85" y="-44.13" width="11.09" height="8.33"/><rect x="332.26" y="-44.13" width="11.91" height="8.33"/><rect x="352.95" y="-44.13" width="11.09" height="8.33"/></g>
</g>
</svg>
</body></html>
